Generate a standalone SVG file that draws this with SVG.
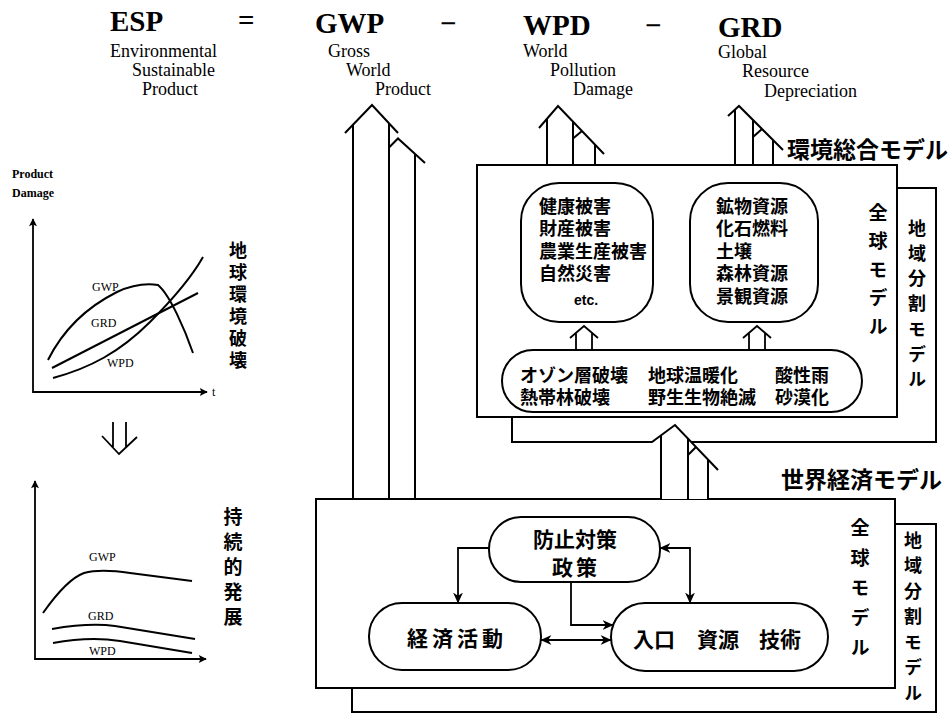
<svg xmlns="http://www.w3.org/2000/svg" width="952" height="714" viewBox="0 0 952 714">
<defs>
<style>
.ln{fill:none;stroke:#000;stroke-width:2;stroke-linejoin:miter}
.thin{fill:none;stroke:#000;stroke-width:1.8}
.box{fill:#fff;stroke:#000;stroke-width:2}
.jp{font-family:"Noto Sans CJK JP","Noto Sans CJK SC",sans-serif;font-weight:bold;fill:#000}
.vt{writing-mode:vertical-rl}
.hd{font-family:"Liberation Serif",serif;font-weight:bold;font-size:29px;fill:#000}
.sub{font-family:"Liberation Serif",serif;font-size:18px;fill:#000}
.cl{font-family:"Liberation Serif",serif;font-size:12px;fill:#000}
.mid{text-anchor:middle}
</style>
<marker id="ah" viewBox="0 0 10 10" refX="9.5" refY="5" markerWidth="11" markerHeight="11" markerUnits="userSpaceOnUse" orient="auto-start-reverse"><path d="M0,0.5 L10,5 L0,9.5 L3,5 z" fill="#000"/></marker>
<marker id="axh" viewBox="0 0 10 10" refX="9" refY="5" markerWidth="9" markerHeight="8" markerUnits="userSpaceOnUse" orient="auto-start-reverse"><path d="M0,0 L10,5 L0,10 L2,5 z" fill="#000"/></marker>
</defs>
<rect width="952" height="714" fill="#fff"/>

<g id="header">
<text class="hd" x="110" y="31">ESP</text>
<text class="hd" x="238" y="30">=</text>
<text class="hd" x="315" y="33">GWP</text>
<text class="hd" x="440" y="33">−</text>
<text class="hd" x="523" y="35">WPD</text>
<text class="hd" x="645" y="35">−</text>
<text class="hd" x="718" y="37">GRD</text>
<text class="sub" x="110" y="57">Environmental</text>
<text class="sub" x="132" y="76">Sustainable</text>
<text class="sub" x="142" y="95">Product</text>
<text class="sub" x="328" y="57">Gross</text>
<text class="sub" x="346" y="76">World</text>
<text class="sub" x="375" y="95">Product</text>
<text class="sub" x="523" y="57">World</text>
<text class="sub" x="550" y="76">Pollution</text>
<text class="sub" x="573" y="95">Damage</text>
<text class="sub" x="718" y="58">Global</text>
<text class="sub" x="742" y="77">Resource</text>
<text class="sub" x="764" y="97">Depreciation</text>
</g>

<g id="chart-current">
<text class="cl" x="12" y="178" font-weight="bold">Product</text>
<text class="cl" x="12" y="197" font-weight="bold">Damage</text>
<path class="thin" d="M33,219 V392 H207" marker-start="url(#axh)" marker-end="url(#axh)"/>
<text class="cl" x="212" y="396">t</text>
<path class="ln" d="M48,360 C62,332 85,308 117,292 C130,286 145,283 158,285 C170,295 185,330 193,353"/>
<path class="ln" d="M52,368 L198,293"/>
<path class="ln" d="M53,378 C90,368 120,352 150,322 C170,302 190,280 203,257"/>
<text class="cl" x="92" y="291">GWP</text>
<text class="cl" x="91" y="327">GRD</text>
<text class="cl" x="107" y="367">WPD</text>
<text class="jp vt" font-size="18" letter-spacing="4" x="238" y="241">地球環境破壊</text>
</g>

<g id="down-arrow">
<path class="thin" d="M113,422 V447 M126,422 V447 M102,436 L119,454 L137,437"/>
</g>

<g id="chart-sustainable">
<path class="thin" d="M35,481 V659 H206" marker-start="url(#axh)" marker-end="url(#axh)"/>
<path class="ln" d="M43,613 C55,596 70,578 84,573 C95,570 110,570 130,573 L192,581"/>
<path class="ln" d="M52,629 C75,625 100,624 115,626 L195,639"/>
<path class="ln" d="M53,643 C75,639 100,638 120,641 L192,653"/>
<text class="cl" x="89" y="561">GWP</text>
<text class="cl" x="88" y="620">GRD</text>
<text class="cl" x="89" y="655">WPD</text>
<text class="jp vt" font-size="19" letter-spacing="6" x="233" y="507">持続的発展</text>
</g>

<g id="env-model-regional">
<rect class="box" x="512" y="188" width="424" height="254"/>
<text class="jp vt" font-size="18" letter-spacing="7.2" x="917" y="219">地域分割モデル</text>
</g>
<g id="env-model-global">
<rect class="box" x="477" y="165" width="420" height="252"/>
<text class="jp vt" font-size="19" letter-spacing="9.5" x="878" y="203">全球モデル</text>
</g>
<text id="env-model-title" class="jp" font-size="23" x="787" y="158">環境総合モデル</text>

<g id="damage-blob">
<rect class="box" x="521" y="183" width="132" height="139" rx="38" ry="38"/>
<text class="jp" font-size="18"><tspan x="539" y="213">健康被害</tspan><tspan x="539" y="235">財産被害</tspan><tspan x="539" y="258">農業生産被害</tspan><tspan x="539" y="280">自然災害</tspan></text>
<text x="586" y="305" font-family="Liberation Sans, sans-serif" font-weight="bold" font-size="14" text-anchor="middle">etc.</text>
</g>
<g id="resource-blob">
<rect class="box" x="690" y="183" width="128" height="139" rx="38" ry="38"/>
<text class="jp" font-size="18"><tspan x="716" y="213">鉱物資源</tspan><tspan x="716" y="235">化石燃料</tspan><tspan x="716" y="258">土壌</tspan><tspan x="716" y="280">森林資源</tspan><tspan x="716" y="303">景観資源</tspan></text>
</g>
<g id="problems-oval">
<rect class="box" x="502" y="350" width="360" height="62" rx="31" ry="31"/>
<text class="jp" font-size="18"><tspan x="520" y="382">オゾン層破壊</tspan><tspan x="648" y="382">地球温暖化</tspan><tspan x="775" y="382">酸性雨</tspan><tspan x="520" y="404">熱帯林破壊</tspan><tspan x="648" y="404">野生生物絶滅</tspan><tspan x="775" y="404">砂漠化</tspan></text>
</g>

<g id="econ-model-regional">
<rect class="box" x="352" y="524" width="584" height="188"/>
<text class="jp vt" font-size="18" letter-spacing="7.5" x="913" y="531">地域分割モデル</text>
</g>
<g id="econ-model-global">
<rect class="box" x="316" y="499" width="579" height="189"/>
<text class="jp vt" font-size="19" letter-spacing="11" x="860" y="518.5">全球モデル</text>
</g>
<text id="econ-model-title" class="jp" font-size="23" x="781" y="488">世界経済モデル</text>

<g id="policy-node">
<rect class="box" x="489" y="517" width="171" height="65" rx="32" ry="32"/>
<text class="jp mid" font-size="21" font-weight="500" x="575" y="547">防止対策</text>
<text class="jp mid" font-size="21" font-weight="500" x="576" y="575" letter-spacing="3">政策</text>
</g>
<g id="econ-activity-node">
<rect class="box" x="369" y="603" width="172" height="67" rx="33" ry="33"/>
<text class="jp mid" font-size="21" x="457" y="646" letter-spacing="4">経済活動</text>
</g>
<g id="pop-node">
<rect class="box" x="611" y="603" width="217" height="68" rx="34" ry="34"/>
<text class="jp" font-size="21" y="647"><tspan x="633">入口</tspan><tspan x="697">資源</tspan><tspan x="759">技術</tspan></text>
</g>

<g id="connectors">
<path class="ln" d="M345,133 L372,105 L398,133 M353,125 V498 M389,123 V498 M389,147.5 L398,138.5 L425,163 M415,154.5 V498"/>
<path class="ln" d="M539,128 L558,106 L604,154 M547,119 V165 M573,121.5 V165 M595,144.5 V165 M573,138.5 L582,131"/>
<path class="ln" d="M728,116 L739,106 L783,150 M735,110 V166 M753,120 V166 M773,140 V166 M753,137 L762,129"/>
<polygon points="652,443 675,425 708,459.5 708,499 661,499 661,443" fill="#fff"/>
<path class="ln" d="M652,442 L675,425 L718,470 M661,435.5 V499 M688,438.6 V499 M708,459.5 V499 M688,455 L696,447"/>
<path class="thin" d="M570,338 L584,326 L598,338 M576,333 V350 M592,333 V350"/>
<path class="thin" d="M743,338 L757,326 L771,338 M749,333 V350 M765,333 V350"/>
<path class="thin" d="M489,548 H458 V603" marker-end="url(#ah)"/>
<path class="thin" d="M571,582 V625 H613" marker-end="url(#ah)"/>
<path class="thin" d="M541,640 H611" marker-start="url(#ah)" marker-end="url(#ah)"/>
<path class="thin" d="M660,548 H690 V603" marker-start="url(#ah)" marker-end="url(#ah)"/>
</g>
</svg>
